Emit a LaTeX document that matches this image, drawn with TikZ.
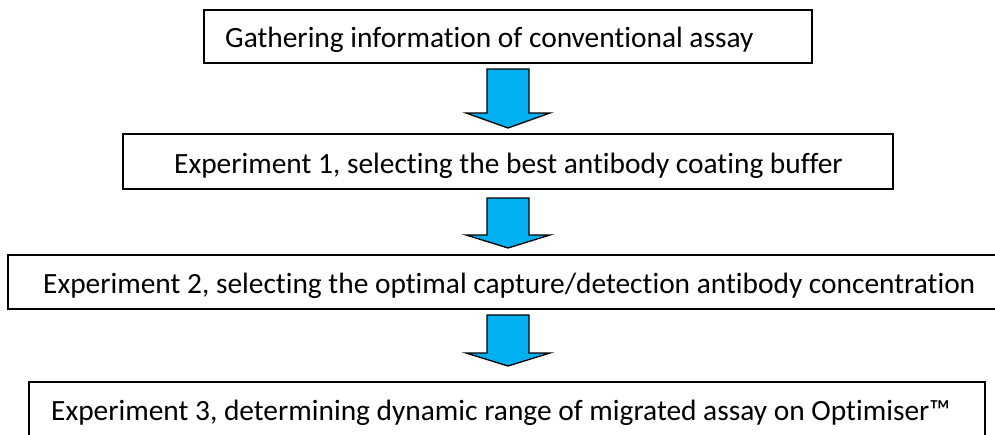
\documentclass[tikz,border=0pt]{standalone}
\usepackage{fontspec}
\setmainfont[Ligatures=NoCommon]{Carlito}
\definecolor{arrowblue}{HTML}{00B0F0}
\begin{document}
\begin{tikzpicture}[x=1pt,y=-1pt,
  boxline/.style={draw=black,line width=1.6pt},
  lbl/.style={anchor=base west,inner sep=0pt,font=\fontsize{29.4}{34}\selectfont},
  blockarrow/.style={fill=arrowblue,draw=black,line width=1.3pt,line join=miter}]
\useasboundingbox (0,0) rectangle (995,434);
\clip (0,0) rectangle (995,434);
% boxes
\draw[boxline] (204,10) rectangle (812,63);
\draw[boxline] (123,134) rectangle (893,189);
\draw[boxline] (8,255) rectangle (1010,309);
\draw[boxline] (29,382) rectangle (985,450);
% labels
\node[lbl] (t1) at (225,47) {Gathering information of conventional assay};
\node[lbl] (t2) at (174,173) {Experiment 1, selecting the best antibody coating buffer};
\node[lbl] (t3) at (43,293) {Experiment 2, selecting the optimal capture/detection antibody concentration};
\node[lbl] (t4) at (51,420) {Experiment 3, determining dynamic range of migrated assay on Optimiser™};
% arrows
\draw[blockarrow] (487,69) -- (529,69) -- (529,113) -- (550,113) -- (508,128) -- (466,113) -- (487,113) -- cycle;
\draw[blockarrow] (487,198) -- (529,198) -- (529,235) -- (550,235) -- (508,248) -- (466,235) -- (487,235) -- cycle;
\draw[blockarrow] (487,315) -- (529,315) -- (529,353) -- (550,353) -- (508,366) -- (466,353) -- (487,353) -- cycle;
\end{tikzpicture}
\end{document}
